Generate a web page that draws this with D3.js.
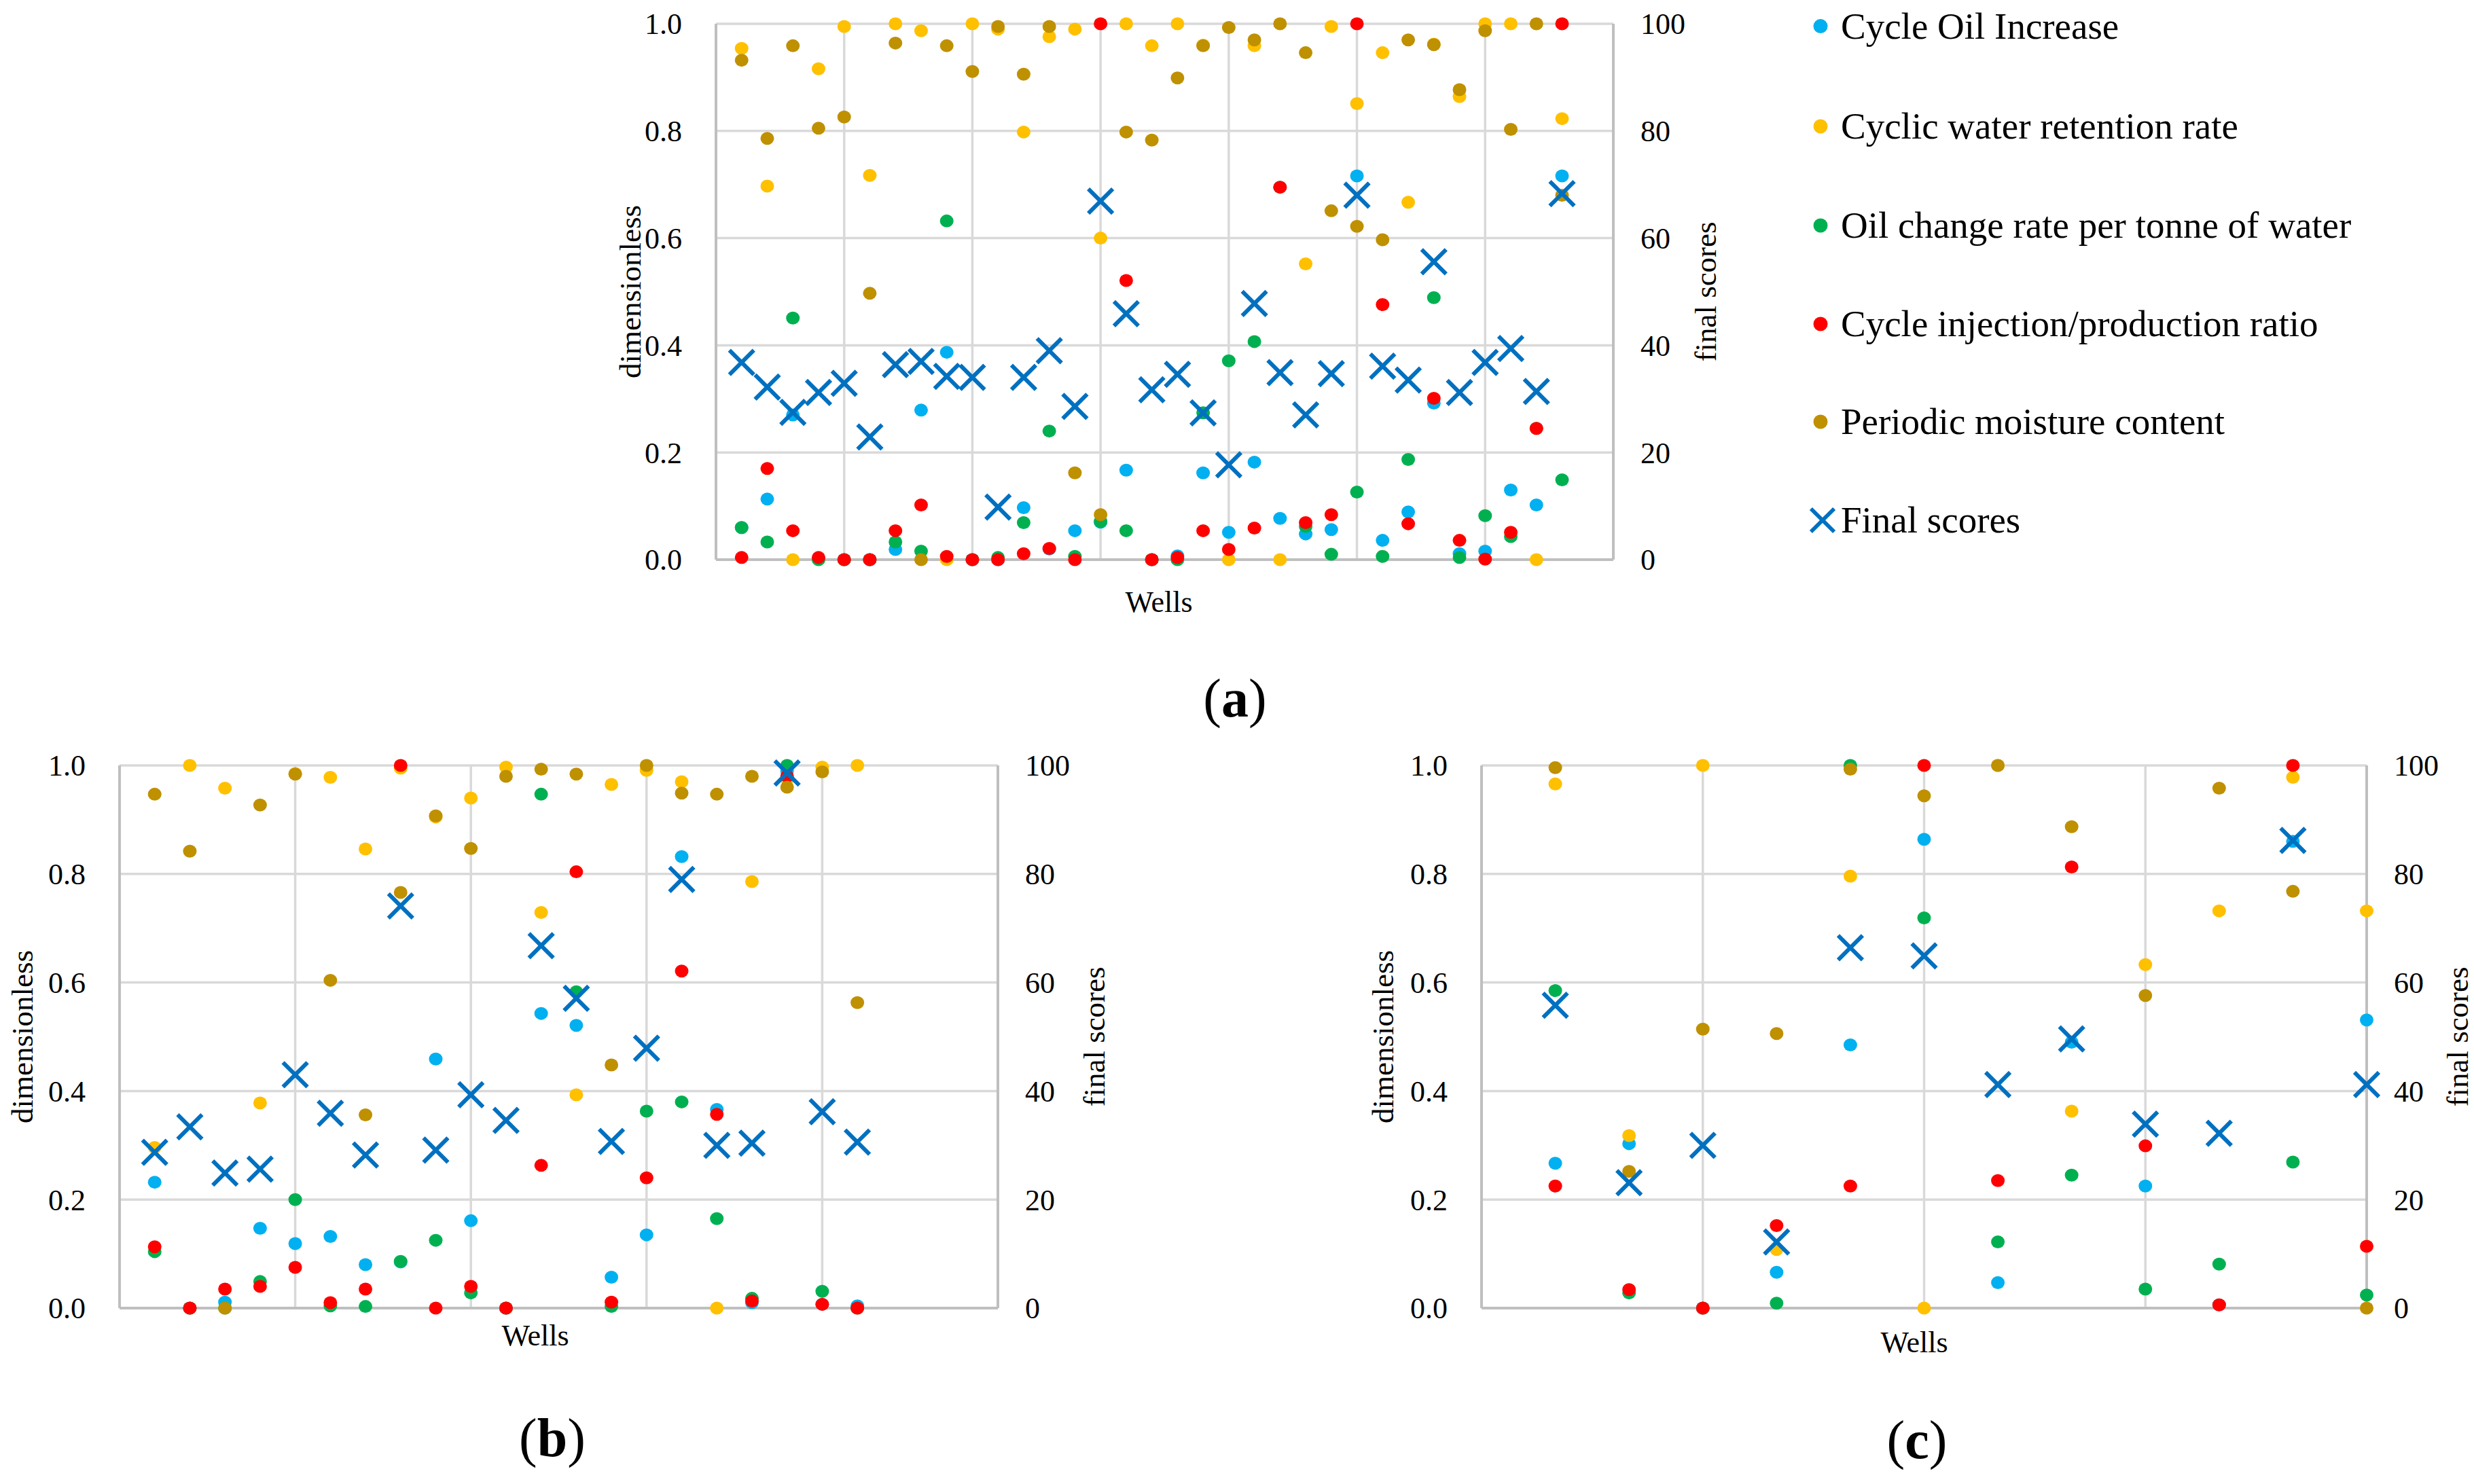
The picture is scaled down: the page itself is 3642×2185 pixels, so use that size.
<!DOCTYPE html>
<html>
<head>
<meta charset="utf-8">
<script src="https://cdn.jsdelivr.net/npm/d3@7"></script>
<style>
  html, body { margin: 0; padding: 0; background: #fff; }
  svg { display: block; font-family: "Liberation Serif", "Times New Roman", serif; }
</style>
</head>
<body>
<div class="d3-chart"></div>
<script>
const width = 3642;
const height = 2185;

const seriesNames = ["Cycle Oil Increase", "Cyclic water retention rate", "Oil change rate per tonne of water",
  "Cycle injection/production ratio", "Periodic moisture content"];
const seriesColors = ["#00B0F0", "#FFC000", "#00B050", "#FF0000", "#BF9000"];
const scoreName = "Final scores";
const scoreColor = "#0070C0";
const leftTicks = [0, 0.2, 0.4, 0.6, 0.8, 1.0];
const rightTicks = [0, 20, 40, 60, 80, 100];

// (a) 33 wells
const aOil = [0.06, 0.113, 0.27, 0.002, 0, 0, 0.019, 0.279, 0.387, 0, 0, 0.097, 0.02, 0.054, 0.07, 0.167, 0, 0.007, 0.162, 0.051, 0.182, 0.077, 0.048, 0.056, 0.716, 0.036, 0.089, 0.292, 0.011, 0.016, 0.130, 0.102, 0.716];
const aWater = [0.954, 0.697, 0, 0.916, 0.995, 0.717, 1.0, 0.987, 0, 1.0, 0.99, 0.798, 0.976, 0.99, 0.6, 1.0, 0.959, 1.0, 0.96, 0, 0.959, 0, 0.552, 0.995, 0.851, 0.946, 0.667, 0.962, 0.864, 1.0, 1.0, 0, 0.823];
const aChange = [0.06, 0.033, 0.451, 0, 0, 0, 0.033, 0.016, 0.632, 0, 0.004, 0.069, 0.240, 0.006, 0.071, 0.054, 0, 0, 0.274, 0.371, 0.407, 0.695, 0.062, 0.010, 0.126, 0.006, 0.187, 0.489, 0.004, 0.082, 0.043, 0.245, 0.149];
const aRatio = [0.004, 0.170, 0.054, 0.004, 0, 0, 0.054, 0.102, 0.006, 0, 0, 0.011, 0.021, 0, 1.0, 0.521, 0, 0.004, 0.054, 0.019, 0.059, 0.695, 0.069, 0.084, 1.0, 0.476, 0.067, 0.301, 0.036, 0.001, 0.051, 0.245, 1.0];
const aMoisture = [0.932, 0.786, 0.959, 0.805, 0.826, 0.497, 0.964, 0, 0.959, 0.911, 0.995, 0.906, 0.995, 0.162, 0.084, 0.798, 0.783, 0.899, 0.959, 0.993, 0.970, 1.0, 0.946, 0.651, 0.622, 0.597, 0.970, 0.961, 0.877, 0.987, 0.803, 1.0, 0.680];
const aScores = [36.8, 32.2, 27.5, 31.2, 32.9, 22.9, 36.4, 37.0, 34.2, 34.0, 9.8, 34.0, 39.0, 28.6, 66.9, 45.9, 31.7, 34.6, 27.4, 17.7, 47.8, 34.9, 27.0, 34.7, 68.0, 36.1, 33.5, 55.6, 31.2, 36.8, 39.4, 31.4, 68.3];

// (b) 21 wells
const bOil = [0.232, 0, 0.011, 0.147, 0.119, 0.132, 0.080, 0.085, 0.459, 0.161, 0, 0.543, 0.521, 0.057, 0.135, 0.832, 0.366, 0.01, 0.99, 0.007, 0.004];
const bWater = [0.296, 1.0, 0.958, 0.378, 0.985, 0.978, 0.846, 0.995, 0.905, 0.940, 0.997, 0.729, 0.393, 0.965, 0.991, 0.970, 0, 0.786, 0.975, 0.997, 1.0];
const bChange = [0.104, 0, 0, 0.049, 0.200, 0.004, 0.003, 0.086, 0.125, 0.028, 0, 0.947, 0.583, 0.003, 0.363, 0.380, 0.165, 0.018, 1.0, 0.031, 0];
const bRatio = [0.113, 0, 0.035, 0.040, 0.075, 0.010, 0.035, 1.0, 0, 0.040, 0, 0.263, 0.804, 0.011, 0.240, 0.621, 0.357, 0.013, 0.980, 0.007, 0];
const bMoisture = [0.947, 0.842, 0, 0.927, 0.984, 0.604, 0.356, 0.766, 0.907, 0.847, 0.980, 0.993, 0.984, 0.448, 1.0, 0.949, 0.947, 0.980, 0.960, 0.988, 0.563];
const bScores = [28.7, 33.4, 24.9, 25.6, 43.0, 35.9, 28.2, 74.1, 29.1, 39.3, 34.6, 66.8, 57.1, 30.7, 47.9, 79.0, 30.0, 30.4, 98.6, 36.2, 30.6];

// (c) 12 wells
const cOil = [0.267, 0.303, 0, 0.066, 0.485, 0.864, 0.047, 0.49, 0.225, 0.006, 0.86, 0.531];
const cWater = [0.966, 0.318, 1.0, 0.108, 0.796, 0, 1.0, 0.363, 0.633, 0.732, 0.978, 0.732];
const cChange = [0.585, 0.028, 0, 0.009, 1.0, 0.719, 0.122, 0.245, 0.035, 0.081, 0.269, 0.024];
const cRatio = [0.225, 0.034, 0, 0.152, 0.225, 1.0, 0.235, 0.813, 0.299, 0.006, 1.0, 0.114];
const cMoisture = [0.996, 0.252, 0.514, 0.506, 0.993, 0.944, 1.0, 0.887, 0.576, 0.958, 0.768, 0];
const cScores = [55.8, 23.1, 30.0, 12.2, 66.4, 64.9, 41.2, 49.6, 33.9, 32.2, 86.2, 41.2];

const panels = [
  {label: "a", series: [aOil, aWater, aChange, aRatio, aMoisture], scores: aScores, xMax: 35, xStep: 5,
   left: 1054, right: 2375, top: 35, bottom: 824, yTitleX: 927, y2TitleX: 2510, wells: [1706, 886], caption: [1818, 1055]},
  {label: "b", series: [bOil, bWater, bChange, bRatio, bMoisture], scores: bScores, xMax: 25, xStep: 5,
   left: 176, right: 1469, top: 1127, bottom: 1926, yTitleX: 32, y2TitleX: 1610, wells: [788, 1966], caption: [813, 2144]},
  {label: "c", series: [cOil, cWater, cChange, cRatio, cMoisture], scores: cScores, xMax: 12, xStep: 3,
   left: 2181, right: 3484, top: 1127, bottom: 1926, yTitleX: 2035, y2TitleX: 3617, wells: [2818, 1976], caption: [2822, 2147]}
];

const svg = d3.select(".d3-chart")
  .append("svg")
  .attr("width", width)
  .attr("height", height)
  .attr("viewBox", [0, 0, width, height]);

svg.append("rect").attr("width", width).attr("height", height).attr("fill", "#fff");

const dotR = 9.5;
const crossR = 18;

function drawCross(sel, color) {
  sel.append("path")
    .attr("d", `M${-crossR},${-crossR}L${crossR},${crossR}M${-crossR},${crossR}L${crossR},${-crossR}`)
    .attr("stroke", color)
    .attr("stroke-width", 6)
    .attr("fill", "none");
}

for (const p of panels) {
  const x = d3.scaleLinear([0, p.xMax], [p.left, p.right]);
  const y = d3.scaleLinear([0, 1], [p.bottom, p.top]);
  const y2 = d3.scaleLinear([0, 100], [p.bottom, p.top]);
  const g = svg.append("g");

  // grid
  g.append("g")
    .attr("stroke", "#D9D9D9")
    .attr("stroke-width", 3.5)
    .selectAll("line")
    .data(leftTicks.slice(1))
    .join("line")
    .attr("x1", p.left).attr("x2", p.right)
    .attr("y1", d => y(d)).attr("y2", d => y(d));

  g.append("g")
    .attr("stroke", "#D9D9D9")
    .attr("stroke-width", 3.5)
    .selectAll("line")
    .data(d3.range(p.xStep, p.xMax, p.xStep))
    .join("line")
    .attr("x1", d => x(d)).attr("x2", d => x(d))
    .attr("y1", p.top).attr("y2", p.bottom);

  // axes lines
  const axisColor = "#BFBFBF";
  g.append("line").attr("x1", p.left).attr("x2", p.left).attr("y1", p.top).attr("y2", p.bottom)
    .attr("stroke", axisColor).attr("stroke-width", 4);
  g.append("line").attr("x1", p.right).attr("x2", p.right).attr("y1", p.top).attr("y2", p.bottom)
    .attr("stroke", axisColor).attr("stroke-width", 4);
  g.append("line").attr("x1", p.left).attr("x2", p.right).attr("y1", p.bottom).attr("y2", p.bottom)
    .attr("stroke", axisColor).attr("stroke-width", 4);

  // tick labels
  g.append("g")
    .attr("font-size", 44)
    .attr("text-anchor", "end")
    .selectAll("text")
    .data(leftTicks)
    .join("text")
    .attr("x", p.left - 50)
    .attr("y", d => y(d))
    .attr("dy", "0.35em")
    .text(d3.format(".1f"));

  g.append("g")
    .attr("font-size", 44)
    .attr("text-anchor", "start")
    .selectAll("text")
    .data(rightTicks)
    .join("text")
    .attr("x", p.right + 40)
    .attr("y", d => y2(d))
    .attr("dy", "0.35em")
    .text(d => d);

  // titles
  const midY = (p.top + p.bottom) / 2;
  g.append("text")
    .attr("transform", `translate(${p.yTitleX},${midY}) rotate(-90)`)
    .attr("text-anchor", "middle")
    .attr("dy", "0.35em")
    .attr("font-size", 45)
    .text("dimensionless");
  g.append("text")
    .attr("transform", `translate(${p.y2TitleX},${midY}) rotate(-90)`)
    .attr("text-anchor", "middle")
    .attr("dy", "0.35em")
    .attr("font-size", 45)
    .text("final scores");
  g.append("text")
    .attr("x", p.wells[0]).attr("y", p.wells[1])
    .attr("text-anchor", "middle")
    .attr("dy", "0.35em")
    .attr("font-size", 44)
    .text("Wells");

  const cap = g.append("text")
    .attr("x", p.caption[0]).attr("y", p.caption[1])
    .attr("text-anchor", "middle")
    .attr("font-size", 80);
  cap.append("tspan").text("(");
  cap.append("tspan").attr("font-weight", "bold").text(p.label);
  cap.append("tspan").text(")");

  // dot series
  p.series.forEach((values, i) => {
    g.append("g")
      .attr("fill", seriesColors[i])
      .selectAll("ellipse")
      .data(values)
      .join("ellipse")
      .attr("cx", (d, j) => x(j + 1))
      .attr("cy", d => y(d))
      .attr("rx", dotR + 0.5)
      .attr("ry", dotR);
  });

  // final scores on the secondary axis
  g.append("g")
    .selectAll("g")
    .data(p.scores)
    .join("g")
    .attr("transform", (d, j) => `translate(${x(j + 1)},${y2(d)})`)
    .call(drawCross, scoreColor);
}

// legend
const legend = svg.append("g")
  .attr("font-size", 55);
const legendRows = [38.6, 186, 332, 477, 621, 766];

seriesNames.forEach((name, i) => {
  legend.append("circle")
    .attr("cx", 2680).attr("cy", legendRows[i])
    .attr("r", 10.5)
    .attr("fill", seriesColors[i]);
  legend.append("text")
    .attr("x", 2710).attr("y", legendRows[i])
    .attr("dy", "0.33em")
    .text(name);
});

legend.append("g")
  .attr("transform", `translate(2683,${legendRows[5]}) scale(0.95)`)
  .call(drawCross, scoreColor);
legend.append("text")
  .attr("x", 2710).attr("y", legendRows[5])
  .attr("dy", "0.33em")
  .text(scoreName);
</script>
</body>
</html>
